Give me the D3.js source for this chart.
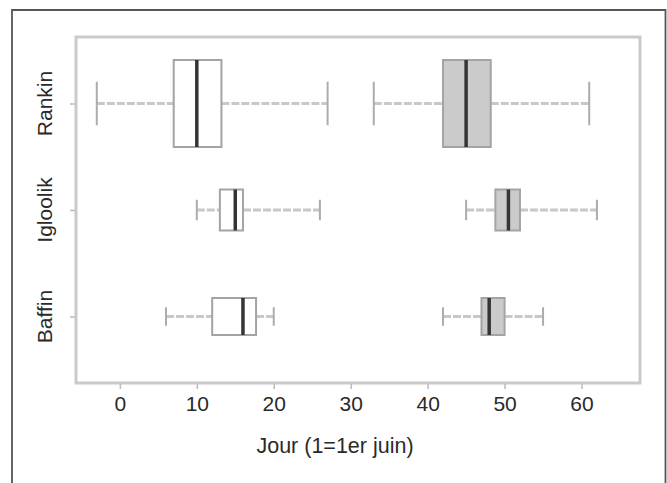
<!DOCTYPE html>
<html>
<head>
<meta charset="utf-8">
<script src="https://cdn.jsdelivr.net/npm/d3@7"></script>
<style>
  html, body { margin: 0; padding: 0; background: #fff; }
  svg { display: block; }
  text { font-family: "Liberation Sans", Arial, Helvetica, sans-serif; fill: #2a2a2a; }
</style>
</head>
<body>
<svg id="chart" width="667" height="483"></svg>
<script>
// ---- data ----
const categories = ["Rankin", "Igloolik", "Baffin"];
// five-number summaries: [lower whisker, Q1, median, Q3, upper whisker]
const earlySeries = [
  [-3, 7, 10, 13.2, 27],
  [10, 13, 15, 16, 26],
  [6, 12, 16, 17.7, 20]
];
const lateSeries = [
  [33, 42, 45, 48.2, 61],
  [45, 48.8, 50.5, 52, 62],
  [42, 47, 48, 50, 55]
];
const xTicks = [0, 10, 20, 30, 40, 50, 60];
const xTitle = "Jour (1=1er juin)";

// ---- layout ----
const svg = d3.select("#chart");
const plot = { left: 76, right: 640, top: 37, bottom: 383 };
const boxHalf = { Rankin: 43.5, Igloolik: 20.5, Baffin: 18.5 };

const x = d3.scaleLinear().domain([-5.7, 67.6]).range([plot.left, plot.right]);
const y = d3.scalePoint().domain(categories).range([103.5, 316.5]);

// outer frame
svg.append("path")
  .attr("d", `M12,483 L12,10 L665.5,10 L665.5,483`)
  .attr("fill", "none").attr("stroke", "#555").attr("stroke-width", 1.8);

// plot frame
svg.append("rect")
  .attr("x", plot.left).attr("y", plot.top)
  .attr("width", plot.right - plot.left).attr("height", plot.bottom - plot.top)
  .attr("fill", "none").attr("stroke", "#cacaca").attr("stroke-width", 3);

// x axis
const xAxis = d3.axisBottom(x).tickValues(xTicks).tickSize(5).tickPadding(7).tickFormat(d3.format("d"));
const gx = svg.append("g").attr("transform", `translate(0,${plot.bottom + 1})`).call(xAxis);
gx.select(".domain").remove();
gx.selectAll(".tick line").attr("stroke", "#bbb").attr("stroke-width", 1.5);
gx.selectAll(".tick text").style("font-size", "21px").attr("fill", "#2a2a2a");

// y axis
const yAxis = d3.axisLeft(y).tickSize(5).tickFormat("");
const gy = svg.append("g").attr("transform", `translate(${plot.left - 1},0)`).call(yAxis);
gy.select(".domain").remove();
gy.selectAll(".tick line").attr("stroke", "#bbb").attr("stroke-width", 1.5);

// y labels (rotated)
svg.selectAll(".ylab").data(categories).enter().append("text")
  .attr("class", "ylab")
  .attr("transform", d => `translate(44,${y(d)}) rotate(-90)`)
  .attr("text-anchor", "middle").attr("dominant-baseline", "central")
  .style("font-size", "21px").text(d => d);

// x title
svg.append("text")
  .attr("x", 335).attr("y", 446)
  .attr("text-anchor", "middle").attr("dominant-baseline", "central")
  .style("font-size", "21.5px").text(xTitle);

// boxes
function drawBoxes(series, fill, cls) {
  const g = svg.append("g").attr("class", cls);
  const items = series.map((s, i) => ({ cat: categories[i], s }));
  const grp = g.selectAll("g").data(items).enter().append("g");
  // whiskers
  [[0, 1], [3, 4]].forEach(([a, b]) => {
    grp.append("line")
      .attr("x1", d => x(d.s[a])).attr("x2", d => x(d.s[b]))
      .attr("y1", d => y(d.cat)).attr("y2", d => y(d.cat))
      .attr("stroke", "#c8c8c8").attr("stroke-width", 3).attr("stroke-dasharray", "8,2");
  });
  // caps
  [0, 4].forEach(k => {
    grp.append("line")
      .attr("x1", d => x(d.s[k])).attr("x2", d => x(d.s[k]))
      .attr("y1", d => y(d.cat) - boxHalf[d.cat] / 2)
      .attr("y2", d => y(d.cat) + boxHalf[d.cat] / 2)
      .attr("stroke", "#acacac").attr("stroke-width", 2);
  });
  // box
  grp.append("rect")
    .attr("x", d => x(d.s[1])).attr("width", d => x(d.s[3]) - x(d.s[1]))
    .attr("y", d => y(d.cat) - boxHalf[d.cat]).attr("height", d => 2 * boxHalf[d.cat])
    .attr("fill", fill).attr("stroke", "#a4a4a4").attr("stroke-width", 2);
  // median
  grp.append("line")
    .attr("x1", d => x(d.s[2])).attr("x2", d => x(d.s[2]))
    .attr("y1", d => y(d.cat) - boxHalf[d.cat])
    .attr("y2", d => y(d.cat) + boxHalf[d.cat])
    .attr("stroke", "#353535").attr("stroke-width", 3.5);
}
drawBoxes(earlySeries, "#ffffff", "early");
drawBoxes(lateSeries, "#cbcbcb", "late");
</script>
</body>
</html>
